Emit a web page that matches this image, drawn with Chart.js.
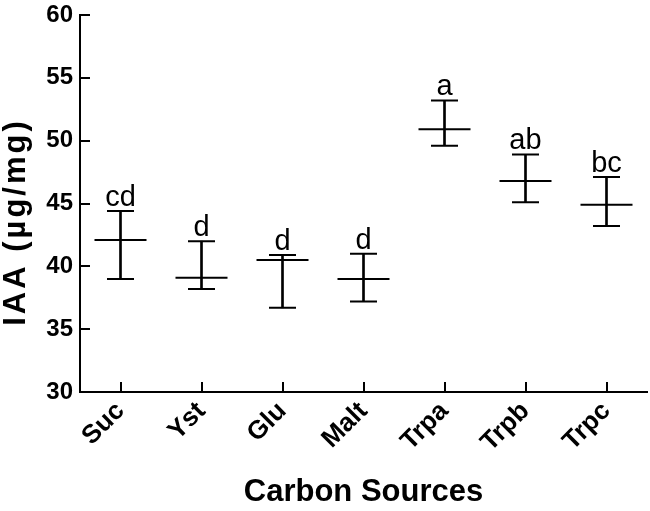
<!DOCTYPE html>
<html>
<head>
<meta charset="utf-8">
<script src="https://cdn.jsdelivr.net/npm/chart.js@4.4.1/dist/chart.umd.min.js"></script>
<style>
  html, body { margin: 0; padding: 0; background: #fff; }
  #wrap { width: 650px; height: 511px; position: relative; }
</style>
</head>
<body>
<div id="wrap"><canvas id="c" width="650" height="511"></canvas></div>
<script>
const categories = ['Suc', 'Yst', 'Glu', 'Malt', 'Trpa', 'Trpb', 'Trpc'];
const means = [42.1, 39.1, 40.5, 39.0, 50.9, 46.8, 44.9];
const upper = [44.4, 42.0, 40.9, 41.0, 53.2, 48.9, 47.1];
const lower = [39.0, 38.2, 36.7, 37.2, 49.6, 45.1, 43.2];
const letters = ['cd', 'd', 'd', 'd', 'a', 'ab', 'bc'];
const yTicks = [30, 35, 40, 45, 50, 55, 60];
const xTitle = 'Carbon Sources';
const yTitle = 'IAA (µg/mg)';

const whiskers = categories.map((c, i) => [lower[i], upper[i]]);

const annotPlugin = {
  id: 'annot',
  afterDraw(chart) {
    const ctx = chart.ctx;
    const xs = chart.scales.x, ys = chart.scales.y;
    const area = chart.chartArea;
    ctx.save();
    // inward tick marks
    ctx.strokeStyle = '#000';
    ctx.lineWidth = 2;
    ctx.beginPath();
    yTicks.forEach(v => {
      if (v === yTicks[0]) return;
      const py = Math.round(ys.getPixelForValue(v));
      ctx.moveTo(area.left, py);
      ctx.lineTo(area.left + 10, py);
    });
    categories.forEach((c, i) => {
      const px = Math.round(xs.getPixelForValue(i));
      ctx.moveTo(px, area.bottom);
      ctx.lineTo(px, area.bottom - 10);
    });
    ctx.stroke();
    // significance letters
    ctx.fillStyle = '#000';
    ctx.font = '29px "Liberation Sans", Arial, sans-serif';
    ctx.textAlign = 'center';
    ctx.textBaseline = 'alphabetic';
    letters.forEach((t, i) => {
      ctx.fillText(t, xs.getPixelForValue(i), ys.getPixelForValue(upper[i]) - 5);
    });
    // y axis title
    ctx.font = 'bold 31px "Liberation Sans", Arial, sans-serif';
    try { ctx.letterSpacing = '3px'; } catch (e) {}
    ctx.translate(25, 222);
    ctx.rotate(-Math.PI / 2);
    ctx.textAlign = 'center';
    ctx.fillText(yTitle, 0, 0);
    ctx.restore();
  }
};

new Chart(document.getElementById('c'), {
  data: {
    labels: categories,
    datasets: [
      {
        type: 'bar',
        data: whiskers,
        backgroundColor: '#000',
        borderWidth: 0,
        barThickness: 2,
        order: 3
      },
      {
        type: 'line',
        data: means,
        showLine: false,
        pointStyle: 'line',
        pointRadius: 26,
        pointHoverRadius: 26,
        pointBorderWidth: 2,
        pointBorderColor: '#000',
        borderColor: '#000',
        order: 1
      },
      {
        type: 'line',
        data: upper,
        showLine: false,
        pointStyle: 'line',
        pointRadius: 13.5,
        pointHoverRadius: 13.5,
        pointBorderWidth: 2,
        pointBorderColor: '#000',
        borderColor: '#000',
        order: 2
      },
      {
        type: 'line',
        data: lower,
        showLine: false,
        pointStyle: 'line',
        pointRadius: 13.5,
        pointHoverRadius: 13.5,
        pointBorderWidth: 2,
        pointBorderColor: '#000',
        borderColor: '#000',
        order: 2
      }
    ]
  },
  options: {
    responsive: false,
    animation: false,
    events: [],
    layout: { autoPadding: false, padding: { top: 15, right: 3, left: 0, bottom: 0 } },
    plugins: { legend: { display: false }, tooltip: { enabled: false } },
    scales: {
      x: {
        type: 'category',
        offset: true,
        grid: { display: false, drawTicks: false, tickLength: 0 },
        border: { display: true, color: '#000', width: 2 },
        ticks: {
          color: '#000',
          font: { family: '"Liberation Sans", Arial, sans-serif', size: 26, weight: 'bold' },
          minRotation: 45, maxRotation: 45,
          padding: 4
        },
        title: {
          display: true,
          text: xTitle,
          color: '#000',
          font: { family: '"Liberation Sans", Arial, sans-serif', size: 31, weight: 'bold' },
          padding: { top: 0, bottom: 0 }
        },
        afterFit(scale) { scale.height = 119; scale.paddingLeft = 0; scale.paddingRight = 0; }
      },
      y: {
        min: 30, max: 60,
        grid: { display: false, drawTicks: false, tickLength: 0 },
        border: { display: true, color: '#000', width: 2 },
        afterBuildTicks(scale) { scale.ticks = yTicks.map(v => ({ value: v })); },
        ticks: {
          color: '#000',
          font: { family: '"Liberation Sans", Arial, sans-serif', size: 24, weight: 'bold' },
          padding: 7
        },
        afterFit(scale) { scale.width = 80; scale.paddingTop = 0; scale.paddingBottom = 0; }
      }
    }
  },
  plugins: [annotPlugin]
});
</script>
</body>
</html>
